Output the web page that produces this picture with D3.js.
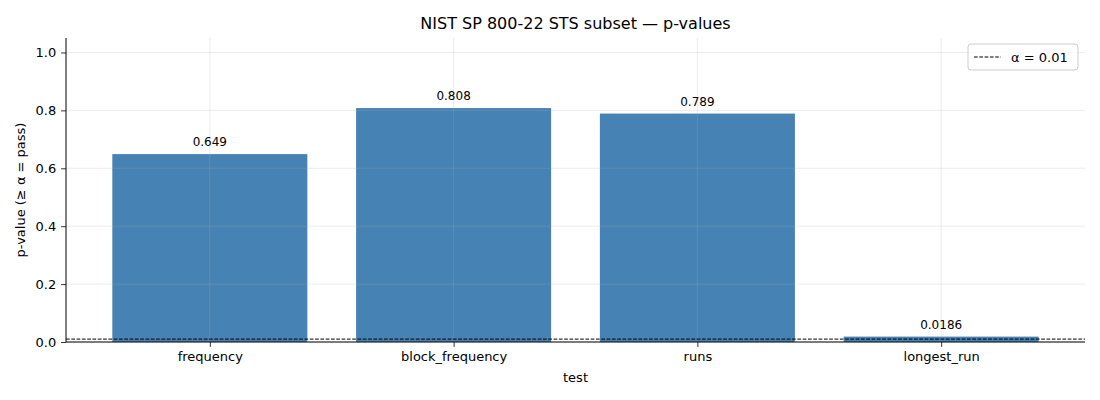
<!DOCTYPE html>
<html>
<head>
<meta charset="utf-8">
<script src="https://cdn.jsdelivr.net/npm/d3@7"></script>
<style>
  body { margin: 0; background: #fff; }
  svg { display: block; font-family: "DejaVu Sans", sans-serif; }
</style>
</head>
<body>
<div id="chart"></div>
<script>
// Chart data
const tests = ["frequency", "block_frequency", "runs", "longest_run"];
const pValues = [0.649, 0.808, 0.789, 0.0186];
const valueLabels = ["0.649", "0.808", "0.789", "0.0186"];
const alpha = 0.01;
const yTicks = [0.0, 0.2, 0.4, 0.6, 0.8, 1.0];

const width = 1100;
const height = 400;
const margin = { top: 38, right: 15, bottom: 58, left: 66 };

const svg = d3.select("#chart")
  .append("svg")
  .attr("width", width)
  .attr("height", height);

const innerW = width - margin.left - margin.right;
const innerH = height - margin.top - margin.bottom;

// Bar positions as in matplotlib: index units, width 0.8, 5% margins
const x = d3.scaleLinear()
  .domain([-0.59, tests.length - 1 + 0.59])
  .range([margin.left, margin.left + innerW]);

const y = d3.scaleLinear()
  .domain([0, 1.05])
  .range([margin.top + innerH, margin.top]);

const barWidth = 0.8;

// Bars
svg.append("g")
  .selectAll("rect.bar")
  .data(pValues)
  .enter()
  .append("rect")
  .attr("class", "bar")
  .attr("x", (d, i) => x(i - barWidth / 2))
  .attr("y", d => y(d))
  .attr("width", x(barWidth) - x(0))
  .attr("height", d => y(0) - y(d))
  .attr("fill", "#4682b4");

// Grid on top of bars, faint
const grid = svg.append("g").attr("class", "grid");
grid.selectAll("line.hgrid")
  .data(yTicks)
  .enter()
  .append("line")
  .attr("x1", margin.left)
  .attr("x2", margin.left + innerW)
  .attr("y1", d => y(d))
  .attr("y2", d => y(d))
  .attr("stroke", "#b0b0b0")
  .attr("stroke-opacity", 0.3)
  .attr("stroke-width", 0.8);

grid.selectAll("line.vgrid")
  .data(tests)
  .enter()
  .append("line")
  .attr("x1", (d, i) => x(i))
  .attr("x2", (d, i) => x(i))
  .attr("y1", margin.top)
  .attr("y2", margin.top + innerH)
  .attr("stroke", "#b0b0b0")
  .attr("stroke-opacity", 0.3)
  .attr("stroke-width", 0.8);

// Alpha threshold line
svg.append("line")
  .attr("x1", margin.left)
  .attr("x2", margin.left + innerW)
  .attr("y1", y(alpha))
  .attr("y2", y(alpha))
  .attr("stroke", "#000")
  .attr("stroke-width", 1)
  .attr("stroke-dasharray", "3.7,1.6");

// Value labels
svg.selectAll("text.value")
  .data(pValues)
  .enter()
  .append("text")
  .attr("class", "value")
  .attr("x", (d, i) => x(i))
  .attr("y", d => y(d) - 8)
  .attr("text-anchor", "middle")
  .style("font-size", "12px")
  .text((d, i) => valueLabels[i]);

// Axes
const yAxis = svg.append("g")
  .attr("transform", `translate(${margin.left},0)`)
  .call(d3.axisLeft(y).tickValues(yTicks).tickFormat(d3.format(".1f")).tickSize(4.9).tickPadding(4.9));

const xAxis = svg.append("g")
  .attr("transform", `translate(0,${margin.top + innerH})`)
  .call(d3.axisBottom(x).tickValues(d3.range(tests.length)).tickFormat(i => tests[i]).tickSize(4.9).tickPadding(4.9));

[xAxis, yAxis].forEach(ax => {
  ax.selectAll("path.domain").attr("stroke", "#000").attr("stroke-width", 1);
  ax.selectAll(".tick line").attr("stroke", "#000").attr("stroke-width", 0.8);
  ax.selectAll(".tick text")
    .attr("fill", "#000")
    .style("font-size", "13px")
    .style("font-family", "DejaVu Sans, sans-serif");
});
// Keep only the axis lines, not the end caps
yAxis.select("path.domain").attr("d", `M0,${y.range()[0]}V${y.range()[1]}`);
xAxis.select("path.domain").attr("d", `M${x.range()[0]},0H${x.range()[1]}`);

// Axis titles
svg.append("text")
  .attr("x", margin.left + innerW / 2)
  .attr("y", 382)
  .attr("text-anchor", "middle")
  .style("font-size", "13px")
  .text("test");

svg.append("text")
  .attr("transform", `translate(25,${margin.top + innerH / 2}) rotate(-90)`)
  .attr("text-anchor", "middle")
  .style("font-size", "13px")
  .text("p-value (≥ α = pass)");

// Title
svg.append("text")
  .attr("x", margin.left + innerW / 2)
  .attr("y", 29)
  .attr("text-anchor", "middle")
  .style("font-size", "16px")
  .text("NIST SP 800-22 STS subset — p-values");

// Legend
const legend = svg.append("g").attr("transform", "translate(968,44)");
legend.append("rect")
  .attr("width", 110)
  .attr("height", 26)
  .attr("rx", 3)
  .attr("fill", "#fff")
  .attr("fill-opacity", 0.8)
  .attr("stroke", "#cccccc");
legend.append("line")
  .attr("x1", 6)
  .attr("x2", 33)
  .attr("y1", 13)
  .attr("y2", 13)
  .attr("stroke", "#000")
  .attr("stroke-width", 1)
  .attr("stroke-dasharray", "3.7,1.6");
legend.append("text")
  .attr("x", 43)
  .attr("y", 17.5)
  .style("font-size", "13px")
  .text("α = 0.01");
</script>
</body>
</html>
